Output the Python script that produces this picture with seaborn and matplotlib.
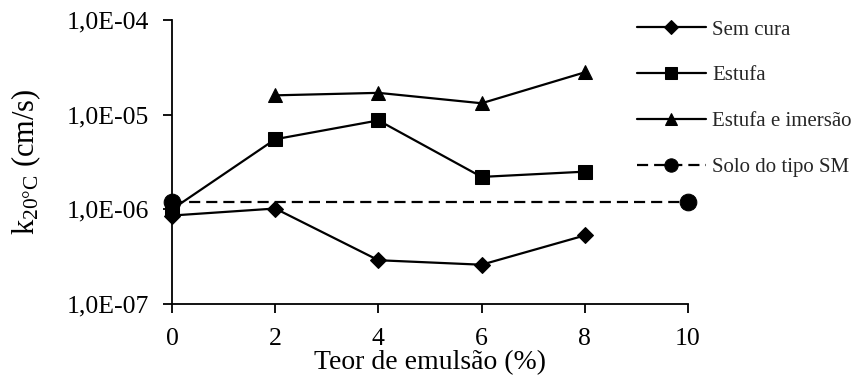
import matplotlib
matplotlib.use('Agg')
import matplotlib.pyplot as plt
import seaborn as sns
import pandas as pd
from matplotlib.ticker import FixedLocator, FixedFormatter, NullLocator

# ---- data ----
teor = [0, 2, 4, 6, 8]
sem_cura = [8.6e-7, 1.02e-6, 2.9e-7, 2.6e-7, 5.3e-7]
estufa = [1.0e-6, 5.5e-6, 8.7e-6, 2.2e-6, 2.5e-6]
teor_imersao = [2, 4, 6, 8]
estufa_imersao = [1.6e-5, 1.7e-5, 1.32e-5, 2.8e-5]
teor_solo = [0, 10]
solo_sm = [1.2e-6, 1.2e-6]

series_names = ['Sem cura', 'Estufa', 'Estufa e imersão', 'Solo do tipo SM']
yticks = [1e-7, 1e-6, 1e-5, 1e-4]
ytick_labels = ['1,0E-07', '1,0E-06', '1,0E-05', '1,0E-04']
xticks = [0, 2, 4, 6, 8, 10]
xtick_labels = ['0', '2', '4', '6', '8', '10']
xlabel = 'Teor de emulsão (%)'
ylabel = r'k$\mathregular{_{20°C}}$ (cm/s)'

sns.set_style('ticks')
plt.rcParams['font.family'] = ['Liberation Serif', 'DejaVu Serif']
plt.rcParams['mathtext.fontset'] = 'custom'
plt.rcParams['mathtext.rm'] = 'Liberation Serif'

fig = plt.figure(figsize=(8.57, 3.76), dpi=100)
ax = fig.add_axes([172/857, 1-304/376, (688-172)/857, (304-20)/376])

df1 = pd.DataFrame({'x': teor, 'y': sem_cura})
df2 = pd.DataFrame({'x': teor, 'y': estufa})
df3 = pd.DataFrame({'x': teor_imersao, 'y': estufa_imersao})
df4 = pd.DataFrame({'x': teor_solo, 'y': solo_sm})

common = dict(color='black', linewidth=1.6, markeredgecolor='black',
              markerfacecolor='black', clip_on=False, ax=ax)
sns.lineplot(data=df1, x='x', y='y', marker='D', markersize=8.5,
             label=series_names[0], zorder=3, **common)
sns.lineplot(data=df2, x='x', y='y', marker='s', markersize=10.5,
             label=series_names[1], zorder=4, **common)
sns.lineplot(data=df3, x='x', y='y', marker='^', markersize=10,
             label=series_names[2], zorder=4, **common)
sns.lineplot(data=df4, x='x', y='y', marker='o', markersize=12,
             label=series_names[3], zorder=5, linestyle=(0, (5, 2.7)), **common)

ax.set_yscale('log')
ax.set_ylim(1e-7, 1e-4)
ax.set_xlim(0, 10)
ax.yaxis.set_major_locator(FixedLocator(yticks))
ax.yaxis.set_major_formatter(FixedFormatter(ytick_labels))
ax.yaxis.set_minor_locator(NullLocator())
ax.xaxis.set_major_locator(FixedLocator(xticks))
ax.xaxis.set_major_formatter(FixedFormatter(xtick_labels))

for s in ['top', 'right']:
    ax.spines[s].set_visible(False)
for s in ['left', 'bottom']:
    ax.spines[s].set_linewidth(1.3)
    ax.spines[s].set_color('black')

ax.tick_params(axis='both', direction='out', length=6.5, width=1.3,
               colors='black', labelsize=18.5, pad=10)
ax.tick_params(axis='x', pad=11)

ax.set_xlabel(xlabel, fontsize=20, color='black')
ax.xaxis.label.set_verticalalignment('baseline')
ax.xaxis.set_label_coords(0.5, -0.229)
ax.set_ylabel(ylabel, fontsize=22, color='black')
ax.yaxis.set_label_coords(-0.25, 0.5)

leg = ax.legend(loc='upper left', bbox_to_anchor=(637/857, 1-20/376),
                bbox_transform=fig.transFigure, frameon=False, fontsize=15,
                handlelength=3.3, handletextpad=0.3, labelspacing=1.26,
                borderpad=0, borderaxespad=0)
for h in leg.legend_handles:
    h.set_markersize(h.get_markersize() * 0.8)

fig.savefig('out.png', dpi=100)
